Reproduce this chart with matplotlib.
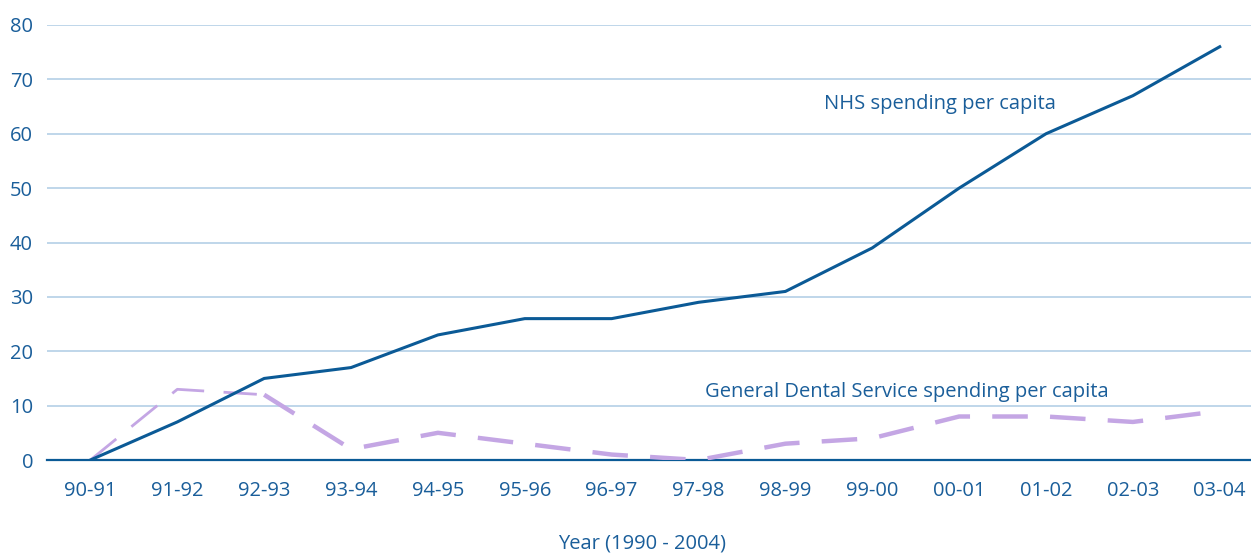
import matplotlib
matplotlib.use("Agg")
import matplotlib.pyplot as plt

years = ["90-91", "91-92", "92-93", "93-94", "94-95", "95-96", "96-97",
         "97-98", "98-99", "99-00", "00-01", "01-02", "02-03", "03-04"]
nhs = [0, 7, 15, 17, 23, 26, 26, 29, 31, 39, 50, 60, 67, 76]
gds = [0, 13, 12, 2, 5, 3, 1, 0, 3, 4, 8, 8, 7, 9]
yticks = [0, 10, 20, 30, 40, 50, 60, 70, 80]

text_c = "#1a5e9a"
nhs_c = "#0b5a96"
gds_c = "#c4a6e4"
grid_c = "#b4d0e6"

plt.rcParams['font.family'] = ['Open Sans', 'DejaVu Sans']
fs = 14.5

fig = plt.figure(figsize=(12.51, 5.54), dpi=100)
ax = fig.add_axes([47/1251, 1-460/554, 1-47/1251, (460-25)/554])
x = list(range(len(years)))

ax.plot(x[:3], gds[:3], color=gds_c, lw=2.0, dashes=(12, 7), zorder=3)
ax.plot(x[2:], gds[2:], color=gds_c, lw=3.2, dashes=(8, 5), zorder=3)
ax.plot(x, nhs, color=nhs_c, lw=2.2, zorder=4)

ax.set_xlim(-0.5, 13.36)
ax.set_ylim(0, 80)
ax.set_yticks(yticks)
ax.set_xticks(x)
ax.set_xticklabels(years)
for v in yticks[1:]:
    ax.axhline(v, color=grid_c, lw=1.2, zorder=1)
for s in ["top", "right", "left"]:
    ax.spines[s].set_visible(False)
ax.spines["bottom"].set_color(nhs_c)
ax.spines["bottom"].set_linewidth(1.6)
ax.tick_params(axis='both', length=0, colors=text_c, labelsize=fs)
ax.tick_params(axis='x', pad=15)
ax.tick_params(axis='y', pad=10)

ax.text(9.78, 65.4, "NHS spending per capita", color=text_c, fontsize=fs, ha='center', va='center')
ax.text(9.40, 12.5, "General Dental Service spending per capita", color=text_c, fontsize=fs, ha='center', va='center')
fig.text(642/1251, 1-543/554, "Year (1990 - 2004)", color=text_c, fontsize=fs, ha='center', va='center')

fig.savefig("out.png", dpi=100)
